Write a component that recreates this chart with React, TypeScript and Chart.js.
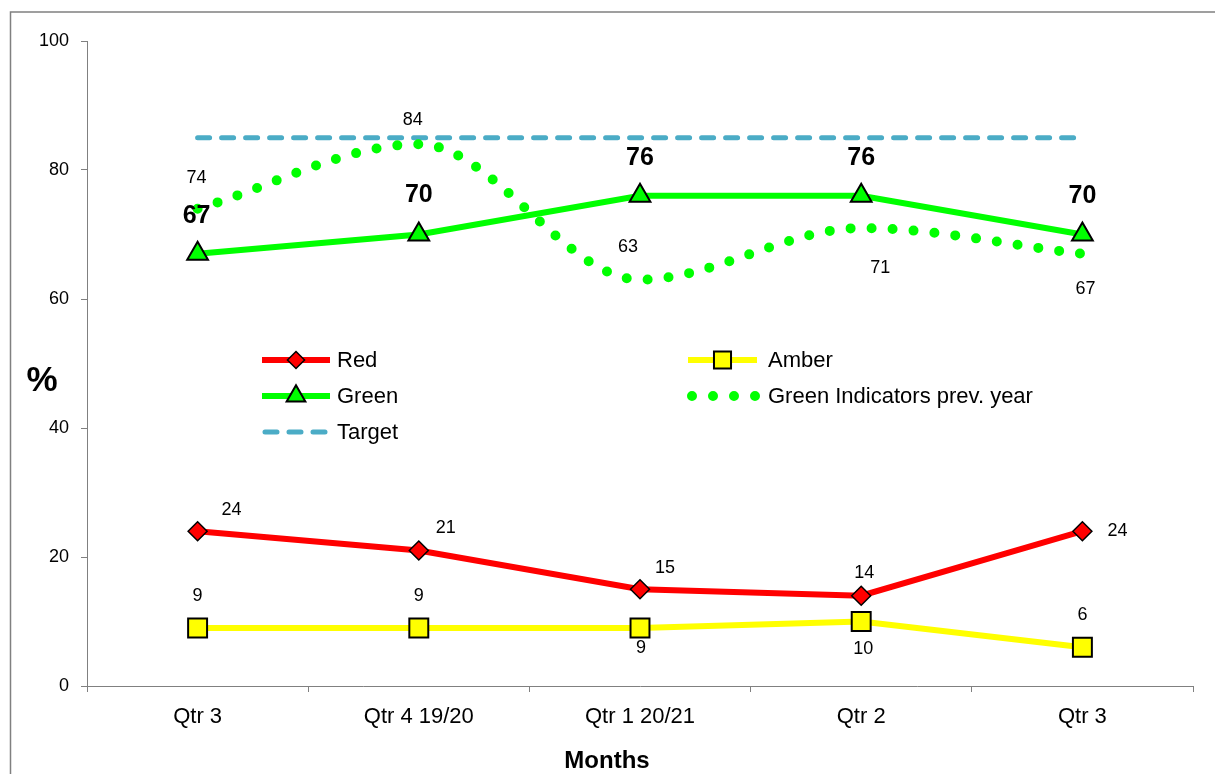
import { useEffect, useRef } from 'react';
import { Chart, registerables } from 'chart.js';

Chart.register(...registerables);

const FONT = "'Liberation Sans', Arial, Helvetica, sans-serif";

// ---- data ----
const categories = ['Qtr 3', 'Qtr 4 19/20', 'Qtr 1 20/21', 'Qtr 2', 'Qtr 3'];
const redValues = [24, 21, 15, 14, 24];
const amberValues = [9, 9, 9, 10, 6];
const greenValues = [67, 70, 76, 76, 70];
const greenPrevYearValues = [74, 84, 63, 71, 67];
const targetValues = [85, 85, 85, 85, 85];
const yTickValues = [0, 20, 40, 60, 80, 100];
const xAxisTitle = 'Months';
const yAxisTitle = '%';

// ---- label placement (pixel offsets from each point) ----
type Off = [number, number];
const redLabelOffsets: Off[] = [[34, -21], [27, -23], [25, -21], [3, -23], [35, 0]];
const amberLabelOffsets: Off[] = [[0, -32], [0, -32], [1, 20], [2, 28], [0, -32]];
const greenLabelOffsets: Off[] = [[-1, -38], [0, -39], [0, -38], [0, -38], [0, -38]];
const prevLabelOffsets: Off[] = [[-1, -31], [-6, -24], [-12, -33], [19, 40], [3, 35]];

const labelConfigs: ({ font: string; offsets: Off[] } | null)[] = [
  { font: `18px ${FONT}`, offsets: redLabelOffsets },
  { font: `18px ${FONT}`, offsets: amberLabelOffsets },
  { font: `bold 25px ${FONT}`, offsets: greenLabelOffsets },
  { font: `18px ${FONT}`, offsets: prevLabelOffsets },
  null,
];

function drawMarker(ctx: CanvasRenderingContext2D, style: string, x: number, y: number, r: number, fill: string, stroke: string, bw: number) {
  ctx.save();
  ctx.beginPath();
  if (style === 'rectRot') {
    ctx.moveTo(x, y - r);
    ctx.lineTo(x + r, y);
    ctx.lineTo(x, y + r);
    ctx.lineTo(x - r, y);
    ctx.closePath();
  } else if (style === 'rect') {
    const h = r * Math.SQRT1_2;
    ctx.rect(x - h, y - h, 2 * h, 2 * h);
  } else if (style === 'triangle') {
    for (let k = 0; k < 3; k++) {
      const a = (k * 2 * Math.PI) / 3;
      const px = x + Math.sin(a) * r;
      const py = y - Math.cos(a) * r;
      if (k === 0) ctx.moveTo(px, py);
      else ctx.lineTo(px, py);
    }
    ctx.closePath();
  }
  ctx.fillStyle = fill;
  ctx.fill();
  ctx.lineWidth = bw;
  ctx.strokeStyle = stroke;
  ctx.stroke();
  ctx.restore();
}

const legendLayout = [
  { x1: 262, x2: 330, tx: 337, y: 360 }, // Red
  { x1: 688, x2: 757, tx: 768, y: 360 }, // Amber
  { x1: 262, x2: 330, tx: 337, y: 396 }, // Green
  { x1: 692, x2: 757, tx: 768, y: 396 }, // Prev year
  { x1: 265, x2: 330, tx: 337, y: 432 }, // Target
];

const decorPlugin = {
  id: 'decor',
  beforeDraw(chart: any) {
    const ctx: CanvasRenderingContext2D = chart.ctx;
    ctx.save();
    ctx.fillStyle = '#ffffff';
    ctx.fillRect(0, 0, chart.width, chart.height);
    ctx.strokeStyle = '#808080';
    ctx.lineWidth = 1.5;
    ctx.strokeRect(10.5, 12, chart.width + 40, chart.height + 40);
    ctx.restore();
  },
  afterDatasetsDraw(chart: any) {
    const ctx: CanvasRenderingContext2D = chart.ctx;
    ctx.save();
    ctx.fillStyle = '#000';
    ctx.textAlign = 'center';
    ctx.textBaseline = 'middle';
    chart.data.datasets.forEach((ds: any, i: number) => {
      const cfg = labelConfigs[i];
      if (!cfg) return;
      const meta = chart.getDatasetMeta(i);
      ctx.font = cfg.font;
      meta.data.forEach((pt: any, j: number) => {
        const o = cfg.offsets[j] || [0, 0];
        ctx.fillText(String(ds.data[j]), pt.x + o[0], pt.y + o[1]);
      });
    });

    // legend
    ctx.font = `22px ${FONT}`;
    ctx.textAlign = 'left';
    chart.data.datasets.forEach((ds: any, i: number) => {
      const L = legendLayout[i];
      ctx.save();
      ctx.strokeStyle = ds.borderColor;
      ctx.lineWidth = ds.borderWidth;
      ctx.lineCap = ds.borderCapStyle || 'butt';
      ctx.setLineDash(ds.borderDash || []);
      ctx.beginPath();
      ctx.moveTo(L.x1, L.y);
      ctx.lineTo(L.x2, L.y);
      ctx.stroke();
      ctx.restore();
      if (ds.pointRadius > 0) {
        drawMarker(ctx, ds.pointStyle, (L.x1 + L.x2) / 2, L.y, ds.pointRadius * 0.9, ds.pointBackgroundColor, ds.pointBorderColor, ds.pointBorderWidth);
      }
      ctx.fillStyle = '#000';
      ctx.fillText(ds.label, L.tx, L.y + 1);
    });

    // axis captions
    ctx.textAlign = 'center';
    ctx.font = `bold 35px ${FONT}`;
    ctx.fillText(yAxisTitle, 42, 381);
    ctx.font = `bold 24px ${FONT}`;
    ctx.fillText(xAxisTitle, 607, 761);
    ctx.restore();
  },
};

export default function App() {
  const ref = useRef<HTMLCanvasElement | null>(null);

  useEffect(() => {
    if (!ref.current) return;
    Chart.defaults.font.family = FONT;
    const chart = new Chart(ref.current, {
      type: 'line',
      data: {
        labels: categories,
        datasets: [
          {
            label: 'Red',
            data: redValues,
            borderColor: '#FF0000',
            borderWidth: 6,
            pointStyle: 'rectRot',
            pointRadius: 9.5,
            pointBackgroundColor: '#FF0000',
            pointBorderColor: '#000000',
            pointBorderWidth: 1.5,
            tension: 0,
          },
          {
            label: 'Amber',
            data: amberValues,
            borderColor: '#FFFF00',
            borderWidth: 6,
            pointStyle: 'rect',
            pointRadius: 13.4,
            pointBackgroundColor: '#FFFF00',
            pointBorderColor: '#000000',
            pointBorderWidth: 2,
            tension: 0,
          },
          {
            label: 'Green',
            data: greenValues,
            borderColor: '#00FF00',
            borderWidth: 6,
            pointStyle: 'triangle',
            pointRadius: 12,
            pointBackgroundColor: '#00FF00',
            pointBorderColor: '#000000',
            pointBorderWidth: 2,
            tension: 0,
          },
          {
            label: 'Green Indicators prev. year',
            data: greenPrevYearValues,
            borderColor: '#00FF00',
            borderWidth: 10,
            borderDash: [0, 21],
            borderCapStyle: 'round',
            pointRadius: 0,
            cubicInterpolationMode: 'monotone',
          },
          {
            label: 'Target',
            data: targetValues,
            borderColor: '#4BACC6',
            borderWidth: 5,
            borderDash: [12, 12],
            borderCapStyle: 'round',
            pointRadius: 0,
            tension: 0,
          },
        ] as any,
      },
      options: {
        animation: false,
        responsive: true,
        maintainAspectRatio: false,
        layout: { padding: { left: 0, top: 41, right: 22, bottom: 0 } },
        plugins: { legend: { display: false }, tooltip: { enabled: false } },
        events: [],
        scales: {
          x: {
            type: 'category',
            offset: true,
            grid: { display: true, drawOnChartArea: false, drawTicks: true, tickLength: 6, color: '#808080', offset: true },
            border: { display: true, color: '#808080', width: 1 },
            ticks: { font: { size: 22, family: FONT }, color: '#000', padding: 12, maxRotation: 0, autoSkip: false },
            title: { display: false },
            afterFit: (s: any) => { s.height = 88; },
          },
          y: {
            min: 0,
            max: 100,
            afterBuildTicks: (s: any) => { s.ticks = yTickValues.map((v) => ({ value: v })); },
            ticks: { font: { size: 18, family: FONT }, color: '#000', padding: 12 },
            grid: { drawOnChartArea: false, drawTicks: true, tickLength: 6, color: '#808080' },
            border: { display: true, color: '#808080', width: 1 },
            afterFit: (s: any) => { s.width = 87; },
          },
        } as any,
      },
      plugins: [decorPlugin as any],
    });
    return () => chart.destroy();
  }, []);

  return (
    <div style={{ position: 'fixed', left: 0, top: 0, width: 1215, height: 774, background: '#fff' }}>
      <canvas ref={ref} />
    </div>
  );
}
